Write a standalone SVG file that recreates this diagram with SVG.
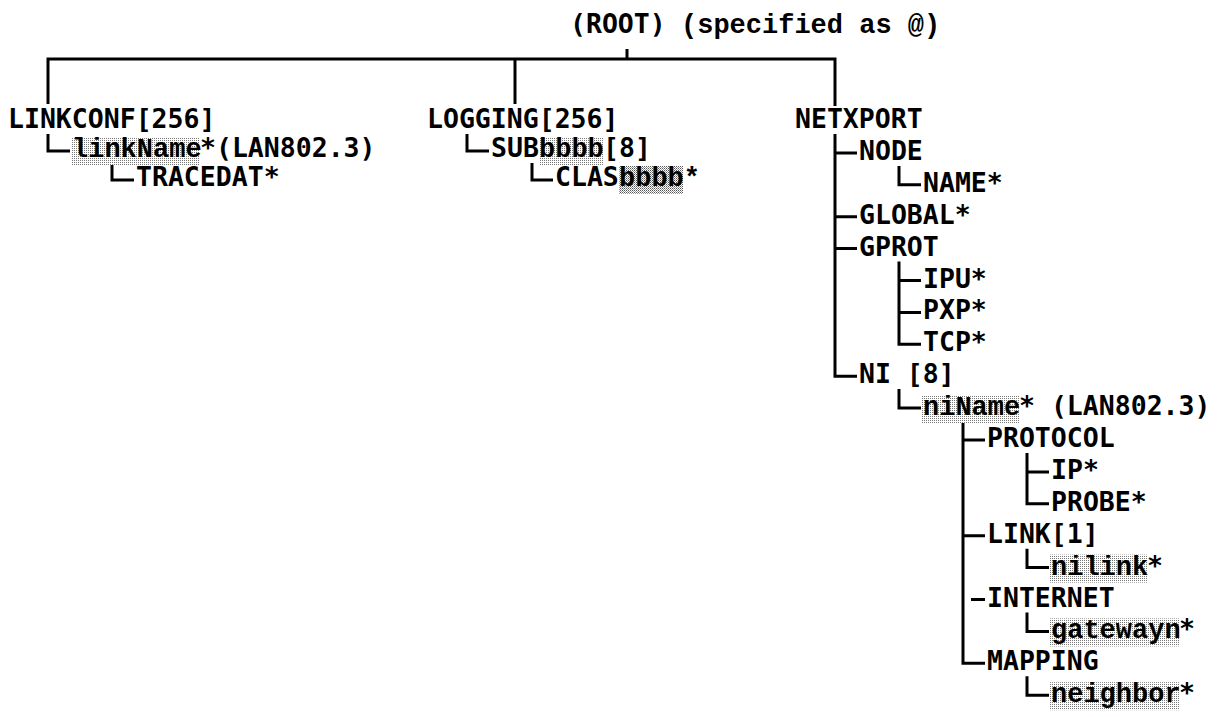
<svg xmlns="http://www.w3.org/2000/svg" width="1217" height="717" viewBox="0 0 1217 717">
<style>
.t{font-family:"DejaVu Sans Mono","Liberation Mono",monospace;font-size:26.5px;font-weight:bold;fill:#000}
.b{font-family:"Liberation Mono","DejaVu Sans Mono",monospace;font-weight:bold;font-size:27px;fill:#000}
.c{stroke:#000;stroke-width:3;fill:none;stroke-linejoin:miter}
.hl{fill:url(#dots)}
.hd{fill:url(#dots2)}
</style>
<defs>
<pattern id="dots" width="2" height="2" patternUnits="userSpaceOnUse"><rect width="2" height="2" fill="#fff"/><rect width="1" height="1" fill="#777"/></pattern>
<pattern id="dots2" width="2" height="2" patternUnits="userSpaceOnUse"><rect width="2" height="2" fill="#fff"/><rect width="1" height="1" fill="#555"/><rect x="1" y="1" width="1" height="1" fill="#999"/></pattern>
</defs>
<rect width="1217" height="717" fill="#fff"/>
<g id="connectors">
<path class="c" d="M48,104 V59 H835 V106"/>
<path class="c" d="M627,49 V59"/>
<path class="c" d="M515,59 V104"/>
<path class="c" d="M48,134 V151 H70"/>
<path class="c" d="M112,163 V180 H134"/>
<path class="c" d="M467,134 V151 H489"/>
<path class="c" d="M532,163 V180 H553"/>
<path class="c" d="M835,134 V376.2 H857"/>
<path class="c" d="M835,152.9 H857 M835,216.7 H857 M835,248.6 H857"/>
<path class="c" d="M899,166 V184.8 H921"/>
<path class="c" d="M899,261.6 V344.3 H921 M899,280.5 H921 M899,312.4 H921"/>
<path class="c" d="M899,389 V408.1 H921"/>
<path class="c" d="M963,421 V663.3 H985 M963,440 H985 M963,535.7 H985 M971,599.5 H985"/>
<path class="c" d="M1027,453 V503.8 H1049 M1027,471.9 H1049"/>
<path class="c" d="M1027,548.7 V567.6 H1049"/>
<path class="c" d="M1027,612.5 V631.4 H1049"/>
<path class="c" d="M1027,676.3 V695.2 H1049"/>
</g>
<g id="root"><text class="t" x="570" y="33">(ROOT)</text><text class="b" x="681" y="33">(specified as @)</text></g>
<g id="linkconf"><text class="t" x="8" y="128">LINKCONF[256]</text></g>
<g id="linkname"><rect class="hl" x="71" y="137" width="129" height="28"/><text class="b" x="72" y="157">linkName</text><text class="t" x="200" y="157">*(LAN802.3)</text></g>
<g id="tracedat"><text class="t" x="136" y="186">TRACEDAT*</text></g>
<g id="logging"><text class="t" x="427" y="128">LOGGING[256]</text></g>
<g id="subbbbb"><rect class="hl" x="539" y="137" width="64" height="28"/><text class="t" x="491" y="157">SUB</text><text class="b" x="539" y="157">bbbb</text><text class="t" x="603" y="157">[8]</text></g>
<g id="clasbbbb"><rect class="hd" x="619" y="166" width="64" height="28"/><text class="t" x="555" y="186">CLAS</text><text class="b" x="619" y="186">bbbb*</text></g>
<g id="netxport"><text class="t" x="795" y="128">NETXPORT</text></g>
<g id="node"><text class="t" x="859" y="159.9">NODE</text></g>
<g id="name"><text class="t" x="923" y="191.8">NAME*</text></g>
<g id="global"><text class="t" x="859" y="223.7">GLOBAL*</text></g>
<g id="gprot"><text class="t" x="859" y="255.6">GPROT</text></g>
<g id="ipu"><text class="t" x="923" y="287.5">IPU*</text></g>
<g id="pxp"><text class="t" x="923" y="319.4">PXP*</text></g>
<g id="tcp"><text class="t" x="923" y="351.3">TCP*</text></g>
<g id="ni"><text class="t" x="859" y="383.2">NI [8]</text></g>
<g id="niname"><rect class="hl" x="922" y="395" width="97" height="28"/><text class="b" x="923" y="415.1">niName</text><text class="t" x="1019" y="415.1">* (LAN802.3)</text></g>
<g id="protocol"><text class="t" x="987" y="447">PROTOCOL</text></g>
<g id="ip"><text class="t" x="1051" y="478.9">IP*</text></g>
<g id="probe"><text class="t" x="1051" y="510.8">PROBE*</text></g>
<g id="link"><text class="t" x="987" y="542.7">LINK[1]</text></g>
<g id="nilink"><rect class="hl" x="1050" y="554.6" width="97" height="28"/><text class="b" x="1051" y="574.6">nilink</text><text class="t" x="1147" y="574.6">*</text></g>
<g id="internet"><text class="t" x="987" y="606.5">INTERNET</text></g>
<g id="gatewayn"><rect class="hl" x="1050" y="618.4" width="129" height="28"/><text class="b" x="1051" y="638.4">gatewayn</text><text class="t" x="1179" y="638.4">*</text></g>
<g id="mapping"><text class="t" x="987" y="670.3">MAPPING</text></g>
<g id="neighbor"><rect class="hl" x="1050" y="682.2" width="129" height="28"/><text class="b" x="1051" y="702.2">neighbor</text><text class="t" x="1179" y="702.2">*</text></g>
</svg>
